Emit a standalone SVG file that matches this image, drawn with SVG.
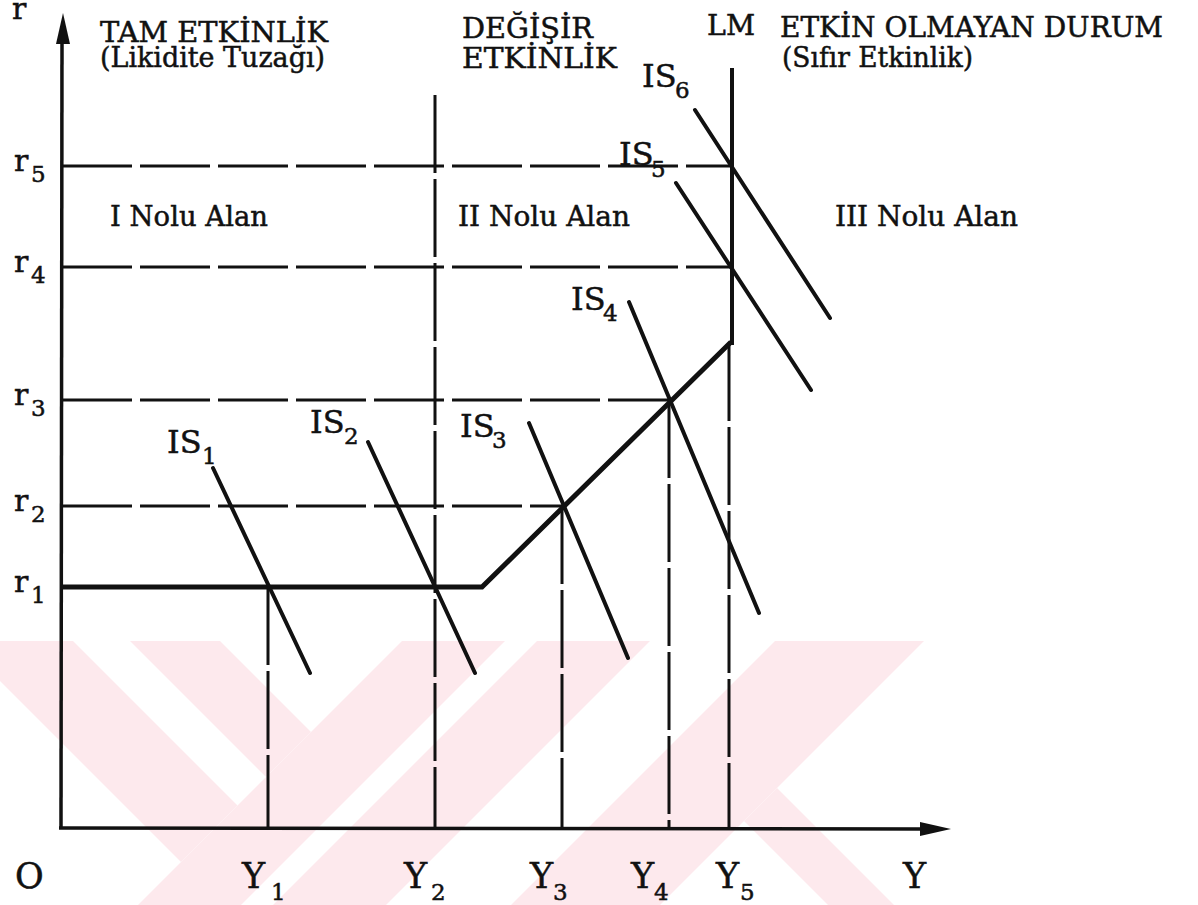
<svg xmlns="http://www.w3.org/2000/svg" width="1198" height="905" viewBox="0 0 1198 905">
<style>
text{font-family:"DejaVu Serif","Liberation Serif",serif;fill:#111;stroke:#111;stroke-width:0.5}
.t{font-size:28px}
.lab{font-size:28px}
.is{font-size:32px}
.sub{font-size:23px}
.ax{font-size:35px}
.rl{font-size:30px}
.dash{stroke:#111;stroke-width:3;fill:none;stroke-dasharray:70 8}
.vdash{stroke:#111;stroke-width:3;fill:none;stroke-dasharray:78 6}
.solid{stroke:#111;stroke-width:4;fill:none;stroke-linecap:round}
.wm{fill:#fde9ed}
</style>
<defs>
<clipPath id="wmclip"><rect x="0" y="641" width="1198" height="264"/></clipPath>
</defs>
<rect width="1198" height="905" fill="#fff"/>
<g id="watermark" clip-path="url(#wmclip)">
<polygon class="wm" points="-40,641 73,641 237.5,805.5 181,862"/>
<polygon class="wm" points="130,641 220,641 311,732 266,777"/>
<polygon class="wm" points="402,641 505,641 241,905 138,905"/>
<polygon class="wm" points="537,641 650,641 386,905 273,905"/>
<polygon class="wm" points="775,641 924,641 660,905 511,905"/>
<polygon class="wm" points="777,788 894,905 828,905 744,821"/>
</g>
<g id="axes">
<line x1="61" y1="828" x2="62" y2="40" stroke="#111" stroke-width="3.5"/>
<polygon points="63,13 56,44 70,44" fill="#111"/>
<line x1="59" y1="828" x2="925" y2="829" stroke="#111" stroke-width="3.5"/>
<polygon points="951,829 920,822 920,836" fill="#111"/>
</g>
<g id="connectors">
<line class="dash" x1="62" y1="166" x2="732" y2="166"/>
<line class="dash" x1="62" y1="267" x2="732" y2="267"/>
<line class="dash" x1="62" y1="400" x2="671" y2="400"/>
<line class="dash" x1="62" y1="506" x2="562" y2="506"/>
<line class="vdash" x1="268" y1="587" x2="268" y2="828"/>
<line class="vdash" x1="435" y1="95" x2="435" y2="828"/>
<line class="vdash" x1="562" y1="506" x2="562" y2="828"/>
<line class="vdash" x1="669" y1="400" x2="669" y2="828"/>
<line class="vdash" x1="729" y1="343" x2="729" y2="828"/>
<line x1="732" y1="68" x2="732" y2="345" stroke="#111" stroke-width="4"/>
<polyline points="62,587 482,587 731,342" fill="none" stroke="#111" stroke-width="5" stroke-linejoin="miter"/>
</g>
<g id="is-curves">
<line class="solid" x1="213" y1="468" x2="310" y2="673"/>
<line class="solid" x1="368" y1="442" x2="475" y2="673"/>
<line class="solid" x1="529" y1="423" x2="628" y2="658"/>
<line class="solid" x1="629" y1="302" x2="759" y2="613"/>
<line class="solid" x1="676" y1="183" x2="811" y2="390"/>
<line class="solid" x1="695" y1="110" x2="830" y2="318"/>
</g>
<g id="titles">
<text class="rl" x="12" y="19">r</text>
<text class="t" x="100" y="42" textLength="228" lengthAdjust="spacingAndGlyphs">TAM ETKİNLİK</text>
<text class="t" x="100" y="67" textLength="225" lengthAdjust="spacingAndGlyphs">(Likidite Tuzağı)</text>
<text class="t" x="462" y="38" textLength="131" lengthAdjust="spacingAndGlyphs">DEĞİŞİR</text>
<text class="t" x="462" y="68" textLength="155" lengthAdjust="spacingAndGlyphs">ETKİNLİK</text>
<text class="t" x="707" y="35" textLength="48" lengthAdjust="spacingAndGlyphs">LM</text>
<text class="t" x="780" y="37" textLength="383" lengthAdjust="spacingAndGlyphs">ETKİN OLMAYAN DURUM</text>
<text class="t" x="782" y="67" textLength="191" lengthAdjust="spacingAndGlyphs">(Sıfır Etkinlik)</text>
</g>
<g id="areas">
<text class="lab" x="110" y="226" textLength="158" lengthAdjust="spacingAndGlyphs">I Nolu Alan</text>
<text class="lab" x="458" y="226" textLength="172" lengthAdjust="spacingAndGlyphs">II Nolu Alan</text>
<text class="lab" x="835" y="226" textLength="183" lengthAdjust="spacingAndGlyphs">III Nolu Alan</text>
</g>
<g id="is-labels">
<text class="is" x="167" y="453">IS</text><text class="sub" x="202" y="464">1</text>
<text class="is" x="310" y="433">IS</text><text class="sub" x="344" y="444">2</text>
<text class="is" x="460" y="437">IS</text><text class="sub" x="492" y="448">3</text>
<text class="is" x="571" y="310">IS</text><text class="sub" x="603" y="321">4</text>
<text class="is" x="619" y="165">IS</text><text class="sub" x="651" y="177">5</text>
<text class="is" x="642" y="87">IS</text><text class="sub" x="675" y="98">6</text>
</g>
<g id="r-labels">
<text class="rl" x="14" y="171">r</text><text class="sub" x="31" y="182">5</text>
<text class="rl" x="14" y="272">r</text><text class="sub" x="31" y="283">4</text>
<text class="rl" x="14" y="405">r</text><text class="sub" x="31" y="416">3</text>
<text class="rl" x="14" y="511">r</text><text class="sub" x="31" y="522">2</text>
<text class="rl" x="14" y="592">r</text><text class="sub" x="31" y="603">1</text>
</g>
<g id="y-labels">
<text class="ax" x="15" y="888">O</text>
<text class="ax" x="242" y="888">Y</text><text class="sub" x="271" y="900">1</text>
<text class="ax" x="404" y="888">Y</text><text class="sub" x="431" y="900">2</text>
<text class="ax" x="530" y="888">Y</text><text class="sub" x="553" y="900">3</text>
<text class="ax" x="631" y="888">Y</text><text class="sub" x="654" y="900">4</text>
<text class="ax" x="716" y="888">Y</text><text class="sub" x="740" y="900">5</text>
<text class="ax" x="903" y="888">Y</text>
</g>
</svg>
